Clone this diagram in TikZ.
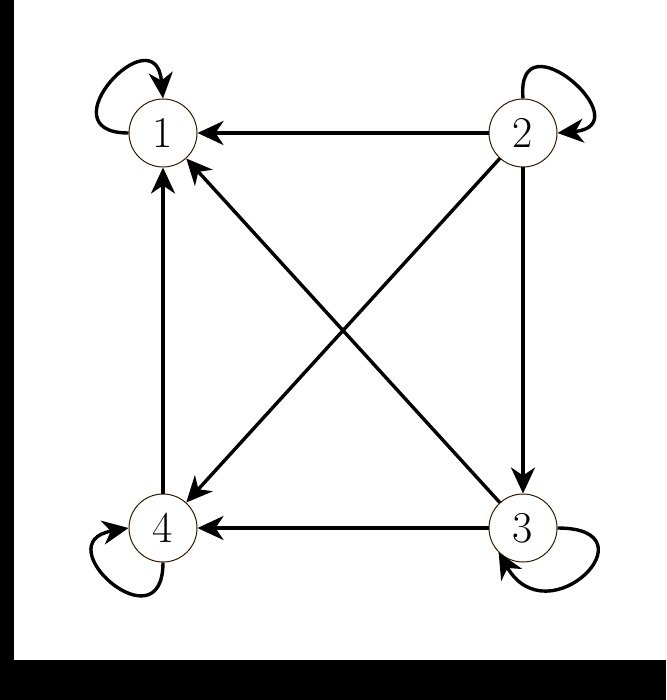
\documentclass[tikz,border=0pt]{standalone}
\usetikzlibrary{arrows.meta}
\begin{document}
\begin{tikzpicture}[x=1pt,y=-1pt,
  vert/.style={circle,draw=black!80!orange,line width=1pt,fill=white,minimum size=68pt,inner sep=0pt,font=\fontsize{44}{44}\selectfont},
  edge/.style={line width=3.4pt,-{Stealth[length=26pt,width=24pt,inset=8pt]}}]
\fill[black] (0,0) rectangle (666,700);
\fill[white] (14,0) rectangle (666,660);
\useasboundingbox (0,0) rectangle (666,700);
\node[vert] (n1) at (163,133) {1};
\node[vert] (n2) at (523,133) {2};
\node[vert] (n3) at (523,528) {3};
\node[vert] (n4) at (163,528) {4};
\draw[edge] (n2) -- (n1);
\draw[edge] (n2) -- (n3);
\draw[edge] (n2) -- (n4);
\draw[edge] (n3) -- (n1);
\draw[edge] (n3) -- (n4);
\draw[edge] (n4) -- (n1);
\draw[edge] (n1.west) to[out=180,in=95,looseness=4.5] (n1.north);
\draw[edge] (n2.north) to[out=95,in=5,looseness=4.5] (n2.east);
\draw[edge] (n3.east) to[out=0,in=-60,looseness=4] (n3.south west);
\draw[edge] (n4.south) to[out=-90,in=190,looseness=4.5] (n4.west);
\end{tikzpicture}
\end{document}
